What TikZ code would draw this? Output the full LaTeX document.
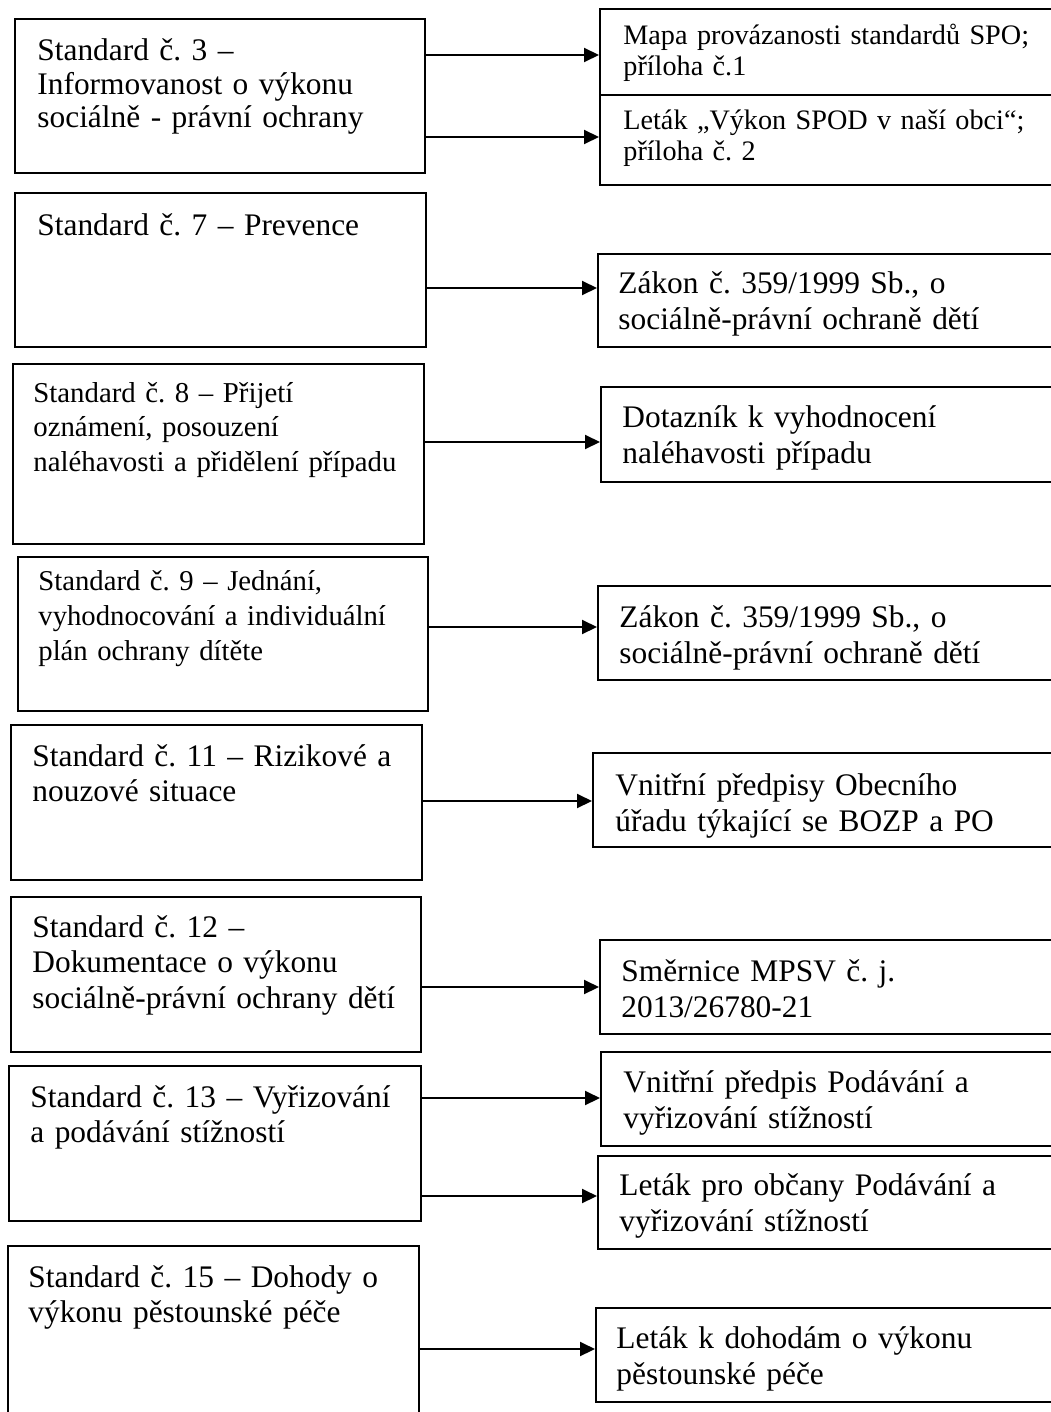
\documentclass[tikz,border=0pt]{standalone}
\usepackage{fontspec}
\setmainfont{Liberation Serif}
\usetikzlibrary{arrows.meta}
\frenchspacing

\newcommand{\stdsize}{\fontsize{15.7}{17.75}\selectfont}
\newcommand{\docsize}{\fontsize{15.7}{18}\selectfont}

\tikzset{
    box/.style={draw, line width=1pt, inner sep=0pt},
    txt/.style={anchor=base west, inner sep=0pt, align=left, text width=215pt},
    arr/.style={-{Triangle[length=7.5pt,width=7pt]}, line width=1pt}
}

\begin{document}
\begin{tikzpicture}[x=0.5pt, y=-0.5pt]
        \useasboundingbox (0,0) rectangle (1050,1412);

        % standards
        \node[box, minimum width=205pt, minimum height=77pt] (s3) at (220,96) {};
        \node[box, minimum width=205.5pt, minimum height=77pt] (s7) at (220.5,270) {};
        \node[box, minimum width=205.5pt, minimum height=90pt] (s8) at (218.5,454) {};
        \node[box, minimum width=205pt, minimum height=77pt] (s9) at (223,634) {};
        \node[box, minimum width=205.5pt, minimum height=77.5pt] (s11) at (216.5,802.5) {};
        \node[box, minimum width=205pt, minimum height=77.5pt] (s12) at (216,974.5) {};
        \node[box, minimum width=206pt, minimum height=77.5pt] (s13) at (215,1143.5) {};
        \node[box, minimum width=205.5pt, minimum height=97pt] (s15) at (213.5,1343) {};

        \node[txt, font=\fontsize{15.7}{16.75}\selectfont] (t3) at (37,61) {Standard č. 3 –\\Informovanost o výkonu\\sociálně - právní ochrany};
        \node[txt, font=\stdsize] (t7) at (37,235) {Standard č. 7 – Prevence};
        \node[txt, font=\fontsize{14.4}{17.25}\selectfont] (t8) at (33,402) {Standard č. 8 – Přijetí\\oznámení, posouzení\\naléhavosti a přidělení případu};
        \node[txt, font=\fontsize{14.35}{17.5}\selectfont] (t9) at (38,590) {Standard č. 9 – Jednání,\\vyhodnocování a individuální\\plán ochrany dítěte};
        \node[txt, font=\stdsize] (t11) at (32,766) {Standard č. 11 – Rizikové a\\nouzové situace};
        \node[txt, font=\stdsize] (t12) at (32,937) {Standard č. 12 –\\Dokumentace o výkonu\\sociálně-právní ochrany dětí};
        \node[txt, font=\stdsize] (t13) at (30,1107) {Standard č. 13 – Vyřizování\\a podávání stížností};
        \node[txt, font=\stdsize] (t15) at (28,1287) {Standard č. 15 – Dohody o\\výkonu pěstounské péče};

        % documents
        \node[box, minimum width=231pt, minimum height=43pt] (m1) at (831,52) {};
        \node[box, minimum width=231pt, minimum height=45pt] (m2) at (831,140) {};
        \node[box, minimum width=232pt, minimum height=46.5pt] (r7) at (830,300.5) {};
        \node[box, minimum width=230.5pt, minimum height=47.5pt] (r8) at (831.5,434.5) {};
        \node[box, minimum width=232pt, minimum height=47pt] (r9) at (830,633) {};
        \node[box, minimum width=234.5pt, minimum height=47pt] (r11) at (827.5,800) {};
        \node[box, minimum width=231pt, minimum height=47pt] (r12) at (831,987) {};
        \node[box, minimum width=230.5pt, minimum height=47pt] (r13a) at (831.5,1099) {};
        \node[box, minimum width=232pt, minimum height=46.5pt] (r13b) at (830,1202.5) {};
        \node[box, minimum width=233pt, minimum height=47pt] (r15) at (829,1355) {};

        \node[txt, font=\fontsize{14.1}{15.5}\selectfont] (d1) at (623,45) {Mapa provázanosti standardů SPO;\\příloha č.1};
        \node[txt, font=\fontsize{14.1}{15.5}\selectfont] (d2) at (623,130) {Leták „Výkon SPOD v naší obci“;\\příloha č. 2};
        \node[txt, font=\docsize] (d7) at (618,293) {Zákon č. 359/1999 Sb., o\\sociálně-právní ochraně dětí};
        \node[txt, font=\docsize] (d8) at (622,427) {Dotazník k vyhodnocení\\naléhavosti případu};
        \node[txt, font=\docsize] (d9) at (619,627) {Zákon č. 359/1999 Sb., o\\sociálně-právní ochraně dětí};
        \node[txt, font=\docsize] (d11) at (615,795) {Vnitřní předpisy Obecního\\úřadu týkající se BOZP a PO};
        \node[txt, font=\docsize] (d12) at (621,981) {Směrnice MPSV č. j.\\2013/26780-21};
        \node[txt, font=\docsize] (d13a) at (623,1092) {Vnitřní předpis Podávání a\\vyřizování stížností};
        \node[txt, font=\docsize] (d13b) at (619,1195) {Leták pro občany Podávání a\\vyřizování stížností};
        \node[txt, font=\docsize] (d15) at (616,1348) {Leták k dohodám o výkonu\\pěstounské péče};

        \draw[arr] ([yshift=-1.5pt]s3.east |- m1.west) -- ([yshift=-1.5pt]m1.west);
        \draw[arr] ([yshift=1.5pt]s3.east |- m2.west) -- ([yshift=1.5pt]m2.west);
        \draw[arr] ([yshift=6.25pt]s7.east |- r7.west) -- ([yshift=6.25pt]r7.west);
        \draw[arr] ([yshift=-3.75pt]s8.east |- r8.west) -- ([yshift=-3.75pt]r8.west);
        \draw[arr] ([yshift=3pt]s9.east |- r9.west) -- ([yshift=3pt]r9.west);
        \draw[arr] ([yshift=-0.5pt]s11.east |- r11.west) -- ([yshift=-0.5pt]r11.west);
        \draw[arr] (s12.east |- r12.west) -- (r12.west);
        \draw[arr] ([yshift=0.5pt]s13.east |- r13a.west) -- ([yshift=0.5pt]r13a.west);
        \draw[arr] ([yshift=3.25pt]s13.east |- r13b.west) -- ([yshift=3.25pt]r13b.west);
        \draw[arr] ([yshift=3pt]s15.east |- r15.west) -- ([yshift=3pt]r15.west);
\end{tikzpicture}
\end{document}
